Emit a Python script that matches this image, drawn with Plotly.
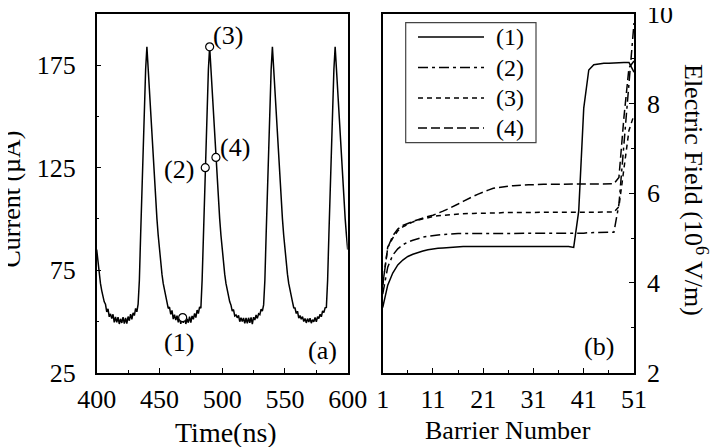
import plotly.graph_objects as go

# ---------------- data: panel (a) current vs time ----------------
time_ns = list(range(400, 601))
current_uA = [
    85, 78.5, 73, 68.5, 65, 62, 59.5, 58.3, 54.6, 56.1,
    52.2, 53.6, 51.3, 53.4, 49.5, 52.1, 49.5, 52.0, 48.7, 51.2,
    49.2, 52.0, 48.9, 51.6, 48.9, 52.3, 50.3, 53.5, 51.0, 54.1,
    52.8, 56.3, 54.6, 58.4, 70, 92, 114, 136, 157, 173,
    184, 173, 162, 152, 141, 130, 120, 110, 100, 92,
    85, 78.5, 73, 68.5, 65, 62, 59.5, 56.3, 56.9, 53.4,
    55.3, 51.1, 53.2, 50.6, 52.7, 49.5, 51.8, 48.8, 51.7, 49.2,
    51.9, 48.7, 51.2, 49.3, 52.3, 49.4, 52.6, 51.0, 53.8, 51.8,
    55.5, 53.8, 57.0, 56.4, 70, 92, 114, 136, 157, 173,
    184, 173, 162, 152, 141, 130, 120, 110, 100, 92,
    85, 78.5, 73, 68.5, 65, 62, 59.5, 57.9, 55.0, 55.7,
    52.6, 53.1, 51.7, 52.9, 49.8, 51.7, 49.9, 51.6, 49.0, 51.6,
    49.0, 51.7, 49.3, 51.9, 48.6, 52.0, 50.6, 53.1, 51.4, 53.7,
    53.2, 55.9, 55.0, 58.0, 70, 92, 114, 136, 157, 173,
    184, 173, 162, 152, 141, 130, 120, 110, 100, 92,
    85, 78.5, 73, 68.5, 65, 62, 59.5, 56.6, 56.5, 53.8,
    54.9, 51.5, 52.8, 51.0, 52.3, 49.9, 51.4, 49.2, 51.3, 49.6,
    51.5, 49.1, 50.8, 49.7, 51.9, 49.8, 52.2, 51.4, 53.4, 52.2,
    55.1, 54.2, 56.6, 56.8, 70, 92, 114, 136, 157, 173,
    184, 173, 162, 152, 141, 130, 120, 110, 100, 92, 85,
]
marker_time = [468.5, 486.5, 490, 495]
marker_current = [51.8, 125, 184, 130]
marker_labels = ["(1)", "(2)", "(3)", "(4)"]
label_time = [465.8, 465.8, 505.0, 510.5]
label_current = [39.5, 124, 189.5, 135]

time_ticks = [400, 450, 500, 550, 600]
time_minor = [425, 475, 525, 575]
current_ticks = [25, 75, 125, 175]
current_minor = [50, 100, 150]

# ---------------- data: panel (b) electric field vs barrier ----------------
barrier = list(range(1, 52))
field_1 = [3.45, 3.95, 4.22, 4.40, 4.51, 4.59, 4.64, 4.68, 4.71, 4.74,
           4.76, 4.77, 4.78, 4.79, 4.80, 4.81, 4.81, 4.81, 4.81, 4.81,
           4.81, 4.81, 4.81, 4.81, 4.81, 4.81, 4.81, 4.82, 4.82, 4.82,
           4.82, 4.82, 4.82, 4.82, 4.82, 4.82, 4.81, 4.81, 4.79, 5.60,
           7.90, 8.75, 8.87, 8.89, 8.90, 8.90, 8.91, 8.91, 8.92, 8.92, 8.70]
field_2 = [3.75, 4.35, 4.62, 4.76, 4.85, 4.91, 4.95, 4.99, 5.02, 5.04,
           5.06, 5.07, 5.08, 5.09, 5.10, 5.10, 5.10, 5.10, 5.10, 5.10,
           5.10, 5.10, 5.10, 5.10, 5.10, 5.10, 5.10, 5.11, 5.11, 5.11,
           5.11, 5.11, 5.11, 5.11, 5.11, 5.11, 5.11, 5.11, 5.11, 5.11,
           5.11, 5.12, 5.12, 5.12, 5.12, 5.12, 5.13, 5.75, 7.10, 8.50, 9.80]
field_3 = [3.95, 4.80, 5.00, 5.16, 5.25, 5.31, 5.36, 5.40, 5.43, 5.46,
           5.48, 5.50, 5.51, 5.52, 5.53, 5.54, 5.54, 5.55, 5.55, 5.55,
           5.56, 5.56, 5.56, 5.56, 5.57, 5.57, 5.57, 5.57, 5.57, 5.57,
           5.57, 5.57, 5.58, 5.58, 5.58, 5.58, 5.58, 5.58, 5.58, 5.58,
           5.58, 5.58, 5.58, 5.58, 5.58, 5.58, 5.58, 5.70, 6.60, 7.40, 7.75]
field_4 = [3.95, 4.78, 5.05, 5.20, 5.28, 5.33, 5.37, 5.41, 5.45, 5.48,
           5.51, 5.55, 5.60, 5.65, 5.70, 5.76, 5.82, 5.88, 5.93, 5.98,
           6.03, 6.07, 6.11, 6.13, 6.15, 6.16, 6.17, 6.18, 6.19, 6.19,
           6.19, 6.20, 6.20, 6.20, 6.20, 6.20, 6.20, 6.20, 6.20, 6.20,
           6.20, 6.20, 6.20, 6.21, 6.21, 6.21, 6.21, 6.35, 7.70, 8.80, 8.95]
field_names = ["(1)", "(2)", "(3)", "(4)"]
field_dashes = ["solid", "10px,4px,3px,4px", "5px,4px", "9px,4px"]

barrier_ticks = [1, 11, 21, 31, 41, 51]
barrier_minor = [6, 16, 26, 36, 46]
field_ticks = [2, 4, 6, 8, 10]
field_minor = [3, 5, 7, 9]

# ---------------- figure ----------------
W, H = 720, 447
OFF = 8  # page body margin of the html page
FONT = "Liberation Serif, Times New Roman, Times, serif"


def px(x):
    return (x - OFF) / W


def py(y):
    return (H - (y - OFF)) / H


fig = go.Figure()

fig.add_trace(go.Scatter(x=time_ns, y=current_uA, mode="lines",
                         line=dict(color="black", width=1.5),
                         showlegend=False, xaxis="x", yaxis="y"))
fig.add_trace(go.Scatter(x=marker_time, y=marker_current, mode="markers",
                         marker=dict(symbol="circle", size=8, color="white",
                                     line=dict(color="black", width=1.2)),
                         showlegend=False, xaxis="x", yaxis="y"))

for name, vals, dash in zip(field_names, [field_1, field_2, field_3, field_4], field_dashes):
    fig.add_trace(go.Scatter(x=barrier, y=vals, mode="lines", name=name,
                             line=dict(color="black", width=1.5, dash=dash),
                             showlegend=False, xaxis="x2", yaxis="y2"))

tickfont = dict(family=FONT, size=26, color="black")
common = dict(showline=True, linecolor="black", linewidth=1.5, mirror=True,
              ticks="inside", ticklen=5, tickwidth=1.2, tickcolor="black",
              showgrid=False, zeroline=False, tickfont=tickfont, automargin=False,
              ticklabeloverflow="allow")

fig.update_layout(
    width=W, height=H, margin=dict(l=0, r=0, t=0, b=0),
    paper_bgcolor="white", plot_bgcolor="white",
    font=dict(family=FONT, color="black"),
    showlegend=False,
    xaxis=dict(domain=[px(96.7), px(347.7)], range=[400, 600], anchor="y",
               tickmode="array", tickvals=time_ticks, ticklabelstandoff=3,
               minor=dict(tickvals=time_minor, ticks="inside", ticklen=3, tickcolor="black"),
               **common),
    yaxis=dict(domain=[py(372.5), py(14)], range=[25, 200], anchor="x",
               tickmode="array", tickvals=current_ticks, ticklabelstandoff=14,
               minor=dict(tickvals=current_minor, ticks="inside", ticklen=3, tickcolor="black"),
               **common),
    xaxis2=dict(domain=[px(382.7), px(634)], range=[1, 51], anchor="y2",
                tickmode="array", tickvals=barrier_ticks, ticklabelstandoff=3,
                minor=dict(tickvals=barrier_minor, ticks="inside", ticklen=3, tickcolor="black"),
                **common),
    yaxis2=dict(domain=[py(372.5), py(14)], range=[2, 10], anchor="x2", side="right",
                tickmode="array", tickvals=field_ticks, ticklabelstandoff=6,
                minor=dict(tickvals=field_minor, ticks="inside", ticklen=3, tickcolor="black"),
                **common),
)

F26 = dict(family=FONT, size=26, color="black")
annots = []
for t, c, s in zip(label_time, label_current, marker_labels):
    annots.append(dict(x=t, y=c, xref="x", yref="y", text=s, showarrow=False,
                       xanchor="center", yanchor="middle", font=F26))
annots.append(dict(x=579.8, y=35.5, xref="x", yref="y", text="(a)", showarrow=False,
                   xanchor="center", yanchor="middle", font=F26))
annots.append(dict(x=44, y=2.57, xref="x2", yref="y2", text="(b)", showarrow=False,
                   xanchor="center", yanchor="middle", font=F26))
# axis titles
annots.append(dict(x=px(225.7), y=py(432), xref="paper", yref="paper", text="Time(ns)",
                   xanchor="center", yanchor="middle", showarrow=False,
                   font=dict(family=FONT, size=28, color="black")))
annots.append(dict(x=px(507.5), y=py(430), xref="paper", yref="paper", text="Barrier Number",
                   xanchor="center", yanchor="middle", showarrow=False,
                   font=dict(family=FONT, size=26, color="black")))
annots.append(dict(x=px(696), y=py(190), xref="paper", yref="paper",
                   text="Electric Field (10<sup>6</sup> V/m)", textangle=90,
                   xanchor="center", yanchor="middle", showarrow=False, font=F26))
annots.append(dict(x=px(11), y=py(199.5), xref="paper", yref="paper",
                   text="Current (µA)", textangle=-90,
                   xanchor="center", yanchor="middle", showarrow=False, font=F26))

# hand-drawn legend box of panel (b)
legend_rows = [37, 67.5, 98, 128]
shapes = [dict(type="rect", xref="paper", yref="paper",
               x0=px(405.7), x1=px(536), y0=py(142.7), y1=py(22.7),
               line=dict(color="#444", width=1.2), fillcolor="white", layer="above")]
for yrow, name, dash in zip(legend_rows, field_names, field_dashes):
    shapes.append(dict(type="line", xref="paper", yref="paper",
                       x0=px(418), x1=px(484), y0=py(yrow), y1=py(yrow),
                       line=dict(color="black", width=1.5, dash=dash), layer="above"))
    annots.append(dict(x=px(510), y=py(yrow), xref="paper", yref="paper", text=name,
                       xanchor="center", yanchor="middle", showarrow=False,
                       font=dict(family=FONT, size=24, color="black")))

fig.update_layout(annotations=annots, shapes=shapes)

fig.write_html("out.html")
